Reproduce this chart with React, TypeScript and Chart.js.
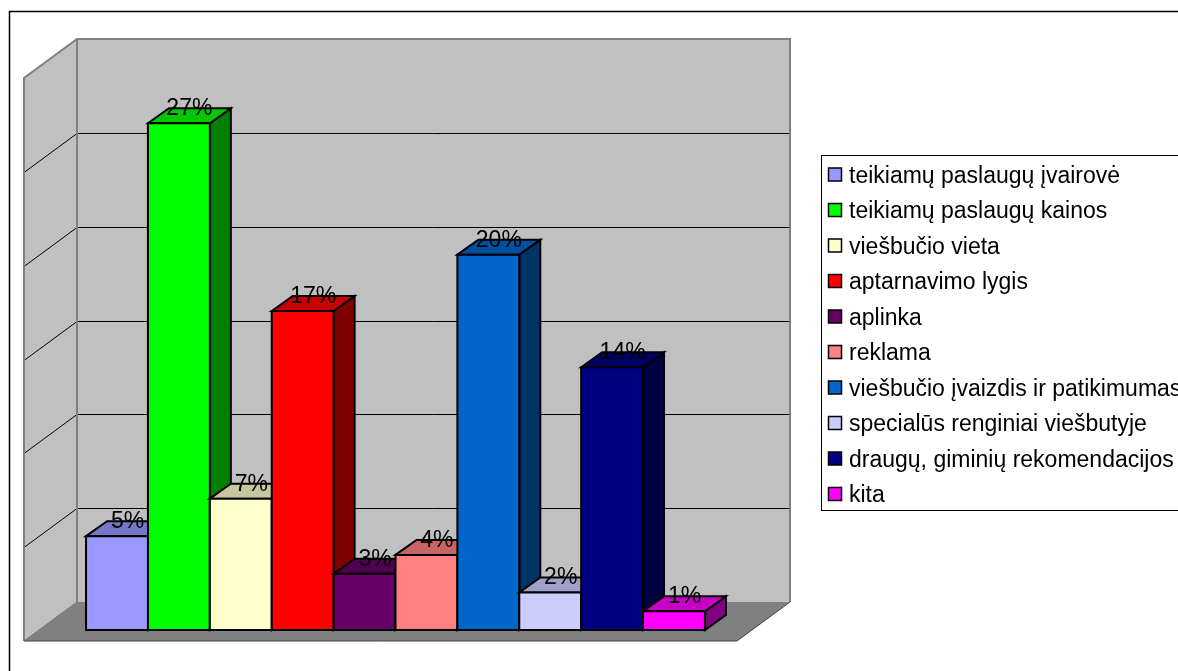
import React, { useEffect, useRef } from 'react';
import { Chart, registerables } from 'chart.js';

Chart.register(...registerables);

const W = 1178;
const H = 671;

const categories = [''];
const seriesNames = [
  'teikiamų paslaugų įvairovė',
  'teikiamų paslaugų kainos',
  'viešbučio vieta',
  'aptarnavimo lygis',
  'aplinka',
  'reklama',
  'viešbučio įvaizdis ir patikimumas',
  'specialūs renginiai viešbutyje',
  'draugų, giminių rekomendacijos',
  'kita',
];
const seriesValues = [5, 27, 7, 17, 3, 4, 20, 2, 14, 1];
const seriesColors = [
  '#9999FF',
  '#00FF00',
  '#FFFFCC',
  '#FF0000',
  '#660066',
  '#FF8080',
  '#0066CC',
  '#CCCCFF',
  '#000080',
  '#FF00FF',
];
const yTicks = [0, 5, 10, 15, 20, 25, 30];

const FONT = '23px "Liberation Sans", Arial, sans-serif';

// projection offsets relative to the bars' front plane
const FRONT = { dx: -15, dy: 11 };
const BACK = { dx: 38, dy: -28 };
const BARD = { dx: 21, dy: -15 };

function shade(hex: string, f: number) {
  const n = parseInt(hex.slice(1), 16);
  const r = Math.round(((n >> 16) & 255) * f);
  const g = Math.round(((n >> 8) & 255) * f);
  const b = Math.round((n & 255) * f);
  return `rgb(${r},${g},${b})`;
}

function poly(ctx: CanvasRenderingContext2D, pts: number[][], fill?: string, stroke?: string, lw = 1) {
  ctx.beginPath();
  ctx.moveTo(pts[0][0], pts[0][1]);
  for (let i = 1; i < pts.length; i++) ctx.lineTo(pts[i][0], pts[i][1]);
  ctx.closePath();
  if (fill) {
    ctx.fillStyle = fill;
    ctx.fill();
  }
  if (stroke) {
    ctx.strokeStyle = stroke;
    ctx.lineWidth = lw;
    ctx.lineJoin = 'miter';
    ctx.stroke();
  }
}

const wallsPlugin = {
  id: 'walls3d',
  beforeDatasetsDraw(chart: any) {
    const ctx: CanvasRenderingContext2D = chart.ctx;
    const { left, right } = chart.chartArea;
    const ys = chart.scales.y;
    const yMax = ys.getPixelForValue(yTicks[yTicks.length - 1]);
    const y0 = ys.getPixelForValue(0);
    ctx.save();
    // left wall
    poly(ctx, [
      [left + FRONT.dx, yMax + FRONT.dy],
      [left + BACK.dx, yMax + BACK.dy],
      [left + BACK.dx, y0 + BACK.dy],
      [left + FRONT.dx, y0 + FRONT.dy],
    ], '#C0C0C0');
    // back wall
    poly(ctx, [
      [left + BACK.dx, yMax + BACK.dy],
      [right + BACK.dx, yMax + BACK.dy],
      [right + BACK.dx, y0 + BACK.dy],
      [left + BACK.dx, y0 + BACK.dy],
    ], '#C0C0C0');
    // gridlines
    ctx.strokeStyle = '#000';
    ctx.lineWidth = 1;
    for (const t of yTicks) {
      if (t === 0 || t === yTicks[yTicks.length - 1]) continue;
      const y = Math.round(ys.getPixelForValue(t)) + 0.5;
      ctx.beginPath();
      ctx.moveTo(left + FRONT.dx, y + FRONT.dy);
      ctx.lineTo(left + BACK.dx, y + BACK.dy);
      ctx.lineTo(right + BACK.dx, y + BACK.dy);
      ctx.stroke();
    }
    // wall borders
    ctx.strokeStyle = '#808080';
    ctx.lineWidth = 2;
    ctx.beginPath();
    ctx.moveTo(left + FRONT.dx, y0 + FRONT.dy);
    ctx.lineTo(left + FRONT.dx, yMax + FRONT.dy);
    ctx.lineTo(left + BACK.dx, yMax + BACK.dy);
    ctx.lineTo(right + BACK.dx, yMax + BACK.dy);
    ctx.lineTo(right + BACK.dx, y0 + BACK.dy);
    ctx.moveTo(left + BACK.dx, yMax + BACK.dy);
    ctx.lineTo(left + BACK.dx, y0 + BACK.dy);
    ctx.stroke();
    // floor
    poly(ctx, [
      [left + FRONT.dx, y0 + FRONT.dy],
      [left + BACK.dx, y0 + BACK.dy],
      [right + BACK.dx, y0 + BACK.dy],
      [right + FRONT.dx, y0 + FRONT.dy],
    ], '#808080');
    ctx.strokeStyle = '#404040';
    ctx.lineWidth = 1;
    ctx.beginPath();
    ctx.moveTo(left + FRONT.dx, y0 + FRONT.dy);
    ctx.lineTo(right + FRONT.dx, y0 + FRONT.dy);
    ctx.lineTo(right + BACK.dx, y0 + BACK.dy);
    ctx.stroke();
    ctx.strokeStyle = '#707070';
    ctx.beginPath();
    ctx.moveTo(left + FRONT.dx, y0 + FRONT.dy);
    ctx.lineTo(left + BACK.dx, y0 + BACK.dy);
    ctx.stroke();
    ctx.restore();
  },
  afterDatasetsDraw(chart: any) {
    const ctx: CanvasRenderingContext2D = chart.ctx;
    ctx.save();
    const n = chart.data.datasets.length;
    const bars: any[] = [];
    for (let i = 0; i < n; i++) {
      const el = chart.getDatasetMeta(i).data[0];
      const col = seriesColors[i];
      const l = el.x - el.width / 2;
      const r = el.x + el.width / 2;
      const t = el.y;
      const b = el.base;
      bars.push({ x: el.x, t });
      // side
      poly(ctx, [
        [r, t], [r + BARD.dx, t + BARD.dy], [r + BARD.dx, b + BARD.dy], [r, b],
      ], shade(col, 0.5), '#000', 2);
      // top
      poly(ctx, [
        [l, t], [l + BARD.dx, t + BARD.dy], [r + BARD.dx, t + BARD.dy], [r, t],
      ], shade(col, 0.78), '#000', 2);
      // front
      poly(ctx, [[l, t], [r, t], [r, b], [l, b]], col, '#000', 2);
    }
    ctx.fillStyle = '#000';
    ctx.font = FONT;
    ctx.textAlign = 'center';
    ctx.textBaseline = 'alphabetic';
    for (let i = 0; i < n; i++) {
      ctx.fillText(seriesValues[i] + '%', bars[i].x + BARD.dx / 2, bars[i].t - 8);
    }
    ctx.restore();
  },
  afterDraw(chart: any) {
    const ctx: CanvasRenderingContext2D = chart.ctx;
    ctx.save();
    // legend
    ctx.strokeStyle = '#000';
    ctx.lineWidth = 1;
    ctx.strokeRect(821.5, 155.5, 500, 355);
    ctx.font = FONT;
    ctx.textAlign = 'left';
    ctx.textBaseline = 'alphabetic';
    for (let i = 0; i < seriesNames.length; i++) {
      const cy = 174.5 + i * 35.5;
      ctx.fillStyle = seriesColors[i];
      ctx.fillRect(828.5, cy - 6.5, 13, 13);
      ctx.strokeStyle = '#000';
      ctx.lineWidth = 1.5;
      ctx.strokeRect(828.5, cy - 6.5, 13, 13);
      ctx.fillStyle = '#000';
      ctx.fillText(seriesNames[i], 849, cy + 8);
    }
    // outer border
    ctx.strokeStyle = '#000';
    ctx.lineWidth = 1.5;
    ctx.strokeRect(9.5, 11.5, 1400, 900);
    ctx.restore();
  },
};

export default function App() {
  const ref = useRef<HTMLCanvasElement>(null);
  useEffect(() => {
    document.body.style.margin = '0';
    document.body.style.overflow = 'hidden';
    const canvas = ref.current!;
    const chart = new Chart(canvas, {
      type: 'bar',
      data: {
        labels: categories,
        datasets: seriesNames.map((name, i) => ({
          label: name,
          data: [seriesValues[i]],
          backgroundColor: seriesColors[i],
          borderColor: '#000',
          borderWidth: 0,
          categoryPercentage: 0.868,
          barPercentage: 1,
        })),
      },
      options: {
        animation: false,
        responsive: false,
        maintainAspectRatio: false,
        layout: { padding: { left: 39, right: W - 752, top: 67, bottom: H - 630 } },
        plugins: { legend: { display: false }, tooltip: { enabled: false }, title: { display: false } },
        scales: {
          x: { display: false },
          y: { display: false, min: 0, max: 30 },
        },
      },
      plugins: [wallsPlugin],
    });
    return () => chart.destroy();
  }, []);
  return (
    <div style={{ width: W, height: H, background: '#fff' }}>
      <canvas ref={ref} width={W} height={H} style={{ display: 'block' }} />
    </div>
  );
}
